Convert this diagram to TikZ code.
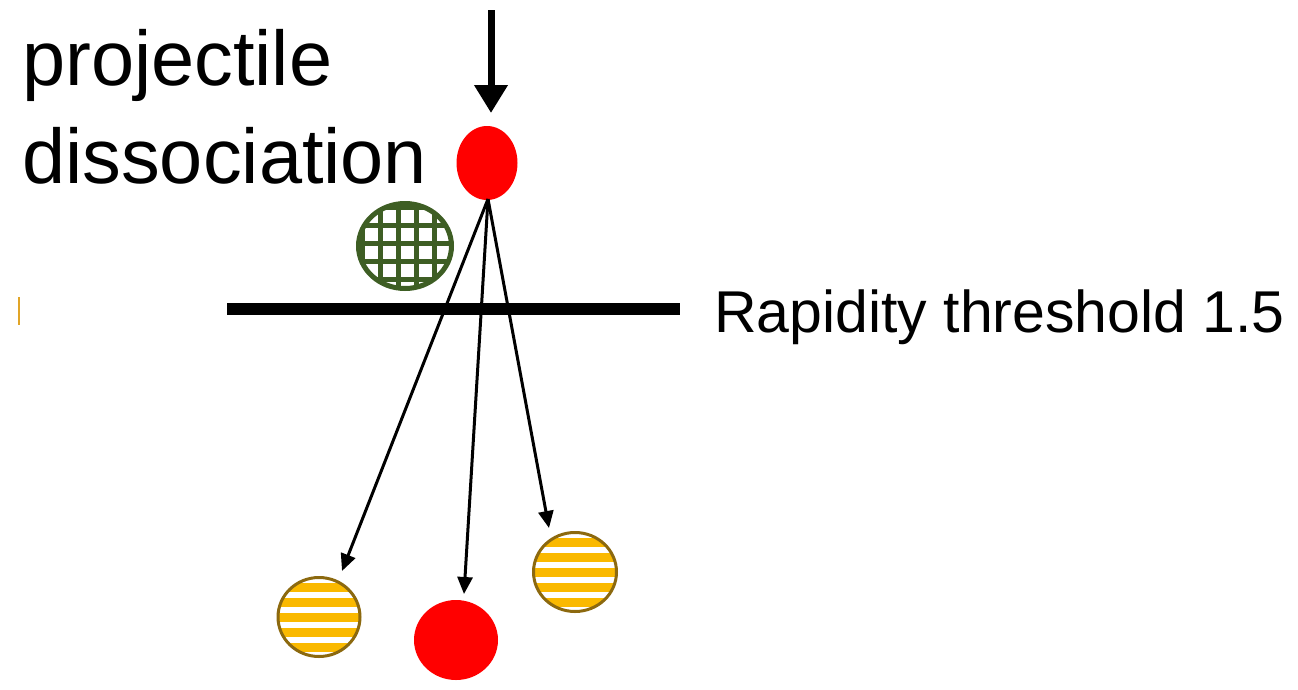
\documentclass[tikz,border=0pt]{standalone}
\usepackage{fontspec}
\setmainfont{Liberation Sans}
\usetikzlibrary{arrows.meta,shapes.geometric}
\definecolor{ballred}{RGB}{255,0,0}
\definecolor{gridgreen}{RGB}{62,94,36}
\definecolor{stripeyellow}{RGB}{250,185,0}
\definecolor{stripeedge}{RGB}{140,105,15}
\definecolor{edgemark}{RGB}{225,165,40}
\tikzset{
  redball/.style={ellipse,fill=ballred,inner sep=0pt,draw=none},
  stripeball/.style={ellipse,inner sep=0pt,fill=white,draw=stripeedge,line width=3pt,
    path picture={
      \foreach \k in {-3,...,3}{
        \fill[stripeyellow] ([xshift=-60pt,yshift=\k*15pt+4.5pt]path picture bounding box.center) rectangle ++(120pt,-9pt);
      }
    }},
  gridball/.style={ellipse,inner sep=0pt,fill=white,draw=gridgreen,line width=5pt,
    path picture={
      \foreach \k in {-3,...,3}{
        \draw[gridgreen,line width=5pt] ([xshift=\k*18pt-7pt,yshift=-60pt]path picture bounding box.center) -- ++(0pt,120pt);
        \draw[gridgreen,line width=5pt] ([yshift=\k*18pt+3pt,xshift=-60pt]path picture bounding box.center) -- ++(120pt,0pt);
      }
    }},
  thinarrow/.style={line width=3pt,-{Triangle[width=15pt,length=17pt]}},
  bigarrow/.style={line width=7pt,-{Triangle[width=32pt,length=28pt]}},
  bigtext/.style={anchor=base west,inner sep=0pt,font=\fontsize{77.5}{90}\selectfont},
  labeltext/.style={anchor=base west,inner sep=0pt,font=\fontsize{59}{66}\selectfont},
}
\begin{document}
\begin{tikzpicture}[x=1pt,y=-1pt]
\useasboundingbox (0,0) rectangle (1298,689);
% text
\node[bigtext] (projA) at (22,85) {projectile};
\node[bigtext] (projB) at (22,183) {dissociation};
\node[labeltext] (thr) at (714,332) {Rapidity threshold 1.5};
% faint edge mark
\draw[edgemark,line width=2.5pt] (19,297) -- (19,325);
% balls
\node[redball,minimum width=61pt,minimum height=74pt] (proj) at (487,163) {};
\node[gridball,minimum width=93pt,minimum height=85pt] (green) at (405,246) {};
\node[stripeball,minimum width=82pt,minimum height=79pt] (yl) at (319,617) {};
\node[stripeball,minimum width=83pt,minimum height=79pt] (yr) at (575,572) {};
\node[redball,minimum width=84pt,minimum height=80pt] (rb) at (456,640) {};
% threshold line
\draw[line width=12pt] (227,309) coordinate (thrL) -- (680,309) coordinate (thrR);
% incoming arrow
\coordinate (inTop) at (491,10);
\coordinate (inTip) at (491,113);
\draw[bigarrow] (inTop) -- (inTip);
% outgoing arrows
\coordinate (src) at (488,199);
\coordinate (tipL) at (342,571);
\coordinate (tipM) at (464,594);
\coordinate (tipR) at (549,528);
\draw[thinarrow] (src) -- (tipL);
\draw[thinarrow] (src) -- (tipM);
\draw[thinarrow] (src) -- (tipR);
\end{tikzpicture}
\end{document}
